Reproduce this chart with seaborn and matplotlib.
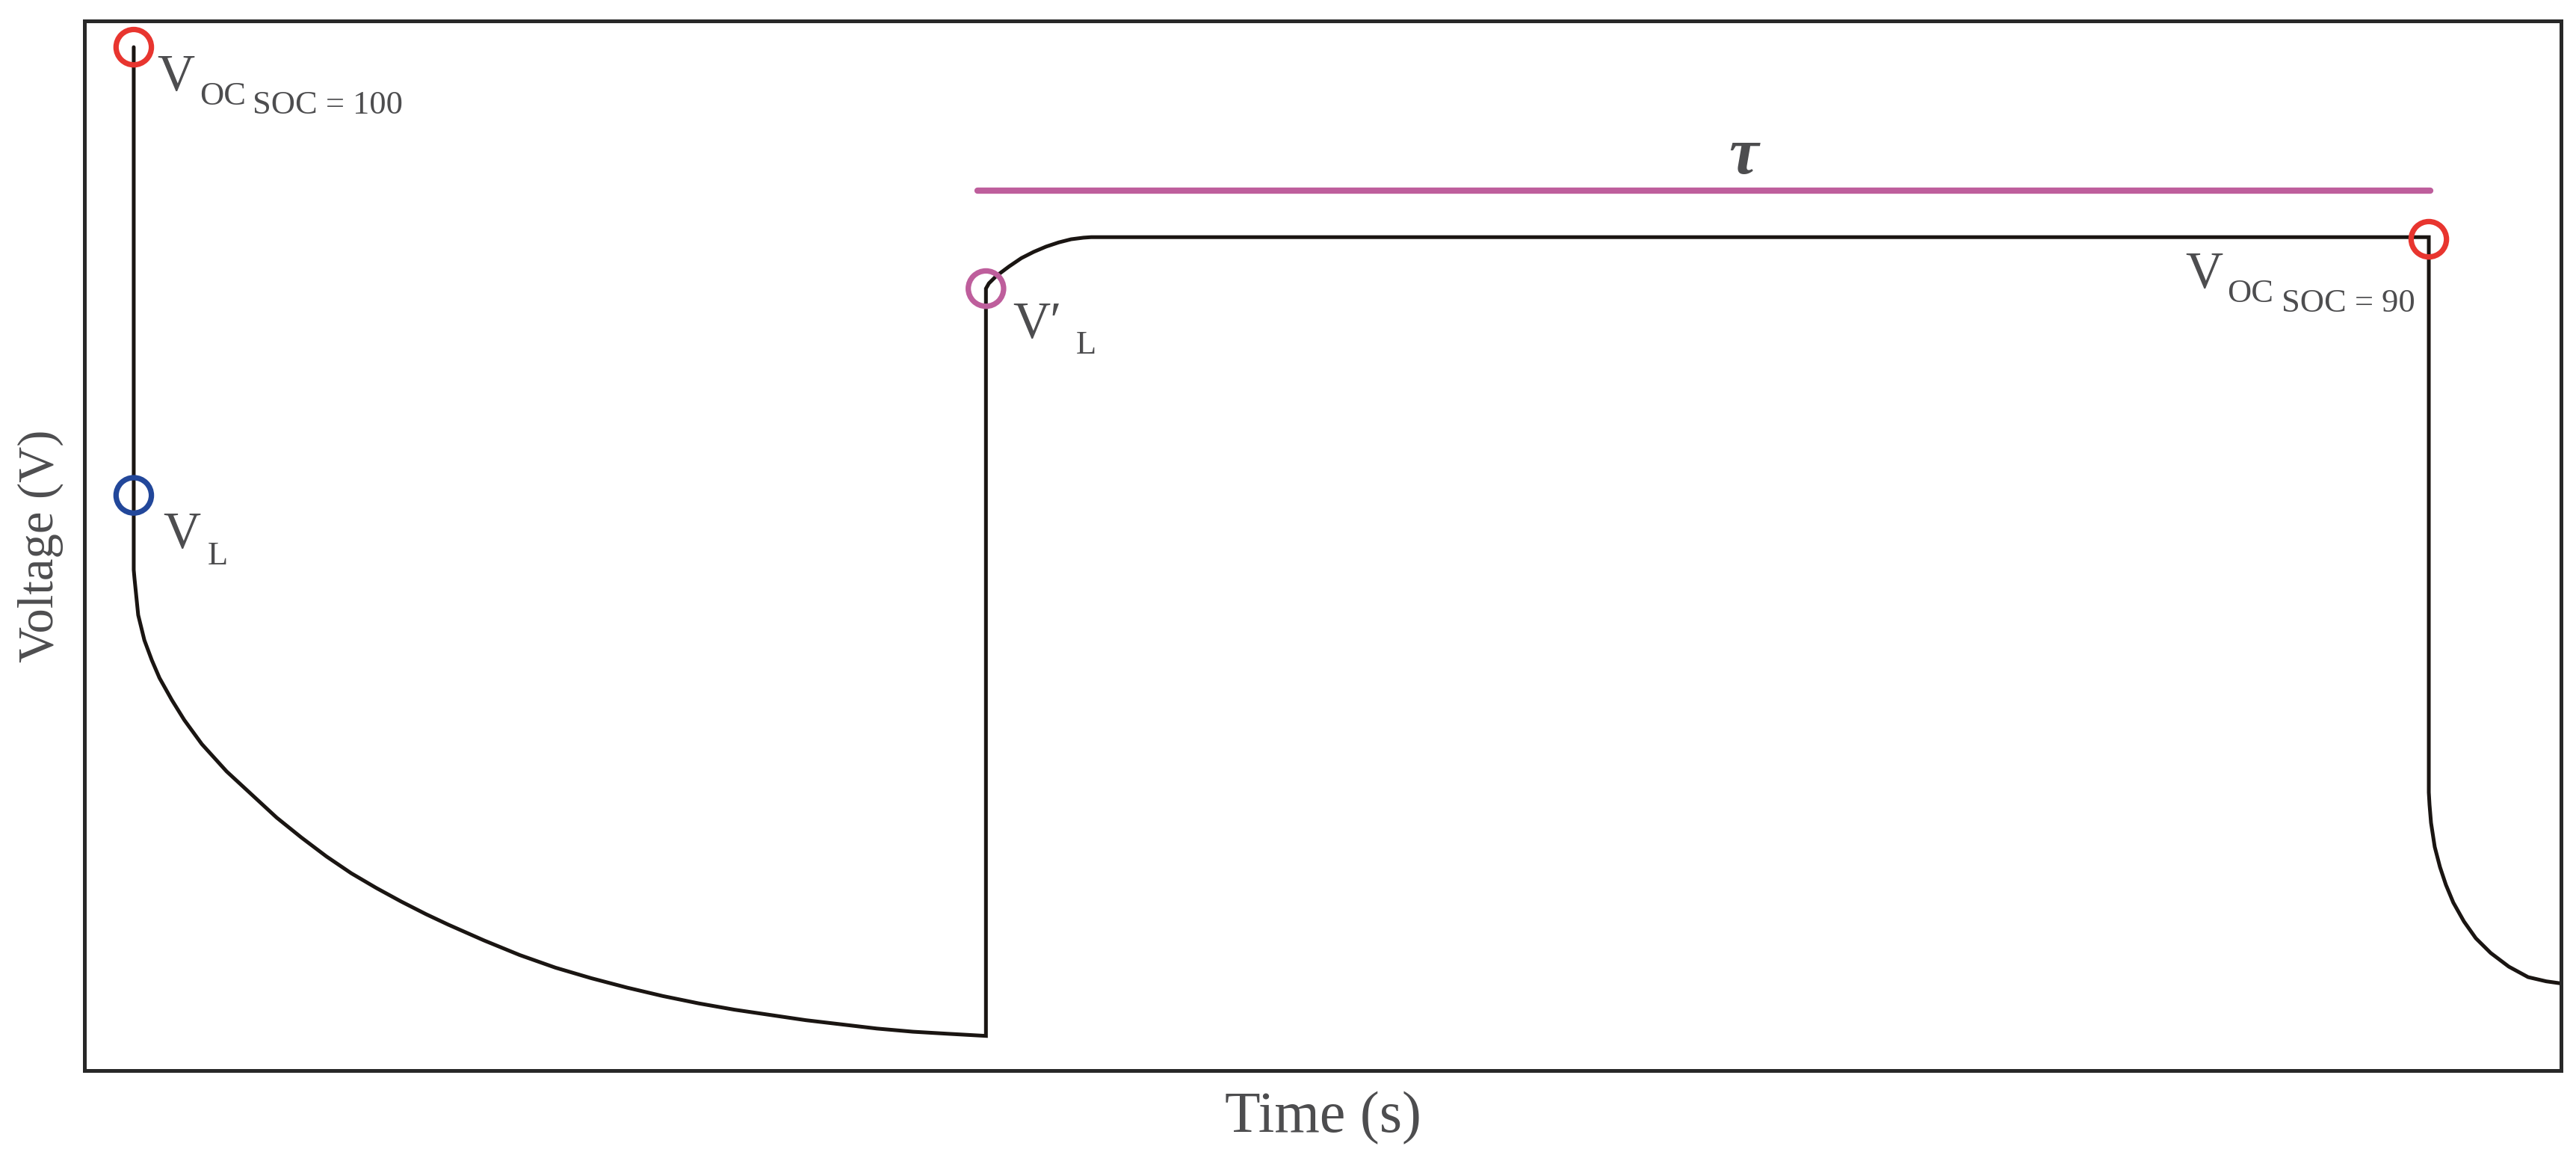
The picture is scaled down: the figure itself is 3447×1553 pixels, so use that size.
import matplotlib
matplotlib.use('Agg')
import matplotlib.pyplot as plt
import seaborn as sns
import pandas as pd

# voltage trace (time and voltage in arbitrary units)
# discharge pulse: open-circuit level, drop to V_L, then the decay
discharge_t = [19.9, 19.9, 19.9, 20.2, 21.7, 24.2, 27.2, 30.3, 35.3, 40.3, 47.4, 57.4,
               67.5, 77.6, 87.6, 97.7, 107.7, 117.8, 127.9, 137.9, 146.9, 161.3,
               175.8, 190.2, 204.6, 219.1, 233.5, 248.0, 262.4, 276.8, 291.2, 305.6,
               320.0, 334.5, 348.9, 364.0]
discharge_v = [97.5, 54.8, 47.7, 46.9, 43.4, 41.0, 39.1, 37.4, 35.3, 33.4, 31.1, 28.5,
               26.3, 24.1, 22.2, 20.4, 18.8, 17.4, 16.1, 14.9, 13.9, 12.4,
               11.0, 9.8, 8.8, 7.9, 7.1, 6.4, 5.8, 5.3, 4.8, 4.4,
               4.0, 3.7, 3.5, 3.3]
# relaxation: jump to V'_L, recovery, rest plateau
rest_t = [364.0, 365.2, 368.2, 373.3, 378.3, 383.3, 388.3, 393.4, 398.4, 403.4,
          406.5, 946.6]
rest_v = [74.5, 75.0, 75.7, 76.6, 77.4, 78.0, 78.5, 78.9, 79.2, 79.35, 79.4, 79.4]
# next discharge pulse
next_t = [946.6, 946.6, 946.9, 947.5, 949.0, 951.1, 953.5, 956.5, 960.8, 965.6,
          971.6, 978.9, 986.7, 994.0, 1000.0]
next_v = [79.4, 26.5, 25.3, 23.6, 21.3, 19.4, 17.7, 16.0, 14.2, 12.6,
          11.2, 9.9, 8.9, 8.5, 8.3]

# marked points
mark_t = [19.9, 19.9, 364.0, 946.6]
mark_v = [97.5, 54.8, 74.5, 79.2]
mark_colors = ['#E8352F', '#22479A', '#BE5E9C', '#E8352F']

# tau span
tau_t = [360.6, 947.2]
tau_v = [83.8, 83.8]

df = pd.DataFrame({'t': discharge_t + rest_t + next_t,
                   'v': discharge_v + rest_v + next_v})

sns.set_theme(style='white')
plt.rcParams['font.family'] = ['Liberation Serif', 'DejaVu Serif']
txt = '#4D4D4F'

fig = plt.figure(figsize=(17.24, 7.765), dpi=200)
ax = fig.add_axes([113 / 3448, 1 - 1432 / 1553, 3314 / 3448, 1404 / 1553])

sns.lineplot(data=df, x='t', y='v', sort=False, estimator=None, color='#1A1512',
             linewidth=1.8, ax=ax, solid_joinstyle='miter')
sns.lineplot(x=tau_t, y=tau_v, color='#BE5E9C', linewidth=3, ax=ax)

for t, v, c in zip(mark_t, mark_v, mark_colors):
    sns.scatterplot(x=[t], y=[v], s=290, color=c, facecolor='none', edgecolor=c,
                    linewidth=2.6, ax=ax, zorder=5)

big, small = 25, 16
# V_OC (SOC = 100)
ax.text(29.3, 93.4, 'V', fontsize=big, color=txt, va='baseline')
ax.text(46.5, 92.0, 'OC', fontsize=small, color=txt, va='baseline')
ax.text(68.0, 91.2, 'SOC = 100', fontsize=small, color=txt, va='baseline')
# V_L
ax.text(31.7, 49.8, 'V', fontsize=big, color=txt, va='baseline')
ax.text(49.8, 48.2, 'L', fontsize=small, color=txt, va='baseline')
# V'_L
ax.text(374.8, 69.8, 'V\u2032', fontsize=big, color=txt, va='baseline')
ax.text(400.4, 68.3, 'L', fontsize=small, color=txt, va='baseline')
# V_OC (SOC = 90)
ax.text(848.2, 74.6, 'V', fontsize=big, color=txt, va='baseline')
ax.text(865.1, 73.2, 'OC', fontsize=small, color=txt, va='baseline')
ax.text(887.0, 72.3, 'SOC = 90', fontsize=small, color=txt, va='baseline')
# tau
ax.text(670, 85.5, '\u03c4', fontsize=32, color=txt, va='baseline', ha='center',
        fontweight='bold', fontstyle='italic')

ax.set_xlim(0, 1000)
ax.set_ylim(0, 100)
ax.set_xticks([])
ax.set_yticks([])
ax.set_xlabel('Time (s)', fontsize=28, color=txt, labelpad=10)
ax.set_ylabel('Voltage (V)', fontsize=24, color=txt, labelpad=10)
for s in ax.spines.values():
    s.set_color('#282828')
    s.set_linewidth(1.8)

fig.savefig('out.png', dpi=200)
